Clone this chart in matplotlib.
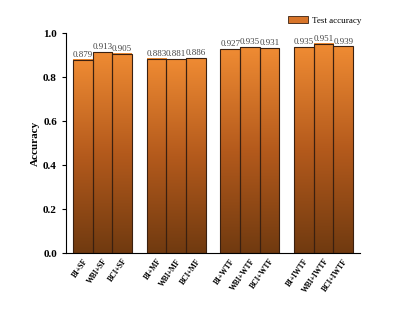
import numpy as np
import matplotlib.pyplot as plt
from matplotlib.colors import LinearSegmentedColormap
from matplotlib.patches import Patch

# data
groups = ['SF', 'MF', 'WTF', 'IWTF']
prefixes = ['BI', 'WBI', 'BCI']
accuracy = [0.879, 0.913, 0.905,
            0.883, 0.881, 0.886,
            0.927, 0.935, 0.931,
            0.935, 0.951, 0.939]
labels = [p + '+' + g for g in groups for p in prefixes]

plt.rcParams['font.family'] = ['Liberation Serif', 'DejaVu Serif']

fig = plt.figure(figsize=(4.12, 3.12), dpi=100)
ax = fig.add_axes([0.160, 0.189, 0.714, 0.705])

cmap = LinearSegmentedColormap.from_list('org', ['#703a10', '#b45a1c', '#ef8b33'])
grad = np.linspace(0, 1, 256).reshape(-1, 1)

xs = []
for i in range(len(groups)):
    for j in range(len(prefixes)):
        xs.append(i * 3.75 + j)

bars = ax.bar(xs, accuracy, width=1.0, facecolor='none', edgecolor='#3a2010', linewidth=0.8, zorder=3)
for b, x, v in zip(bars, xs, accuracy):
    ax.imshow(grad, extent=[x - 0.5, x + 0.5, 0, v], origin='lower', aspect='auto',
              cmap=cmap, vmin=0, vmax=1, zorder=2)
    ax.text(x, v + 0.004, f'{v:.3f}', ha='center', va='bottom', fontsize=6.5, color='#444444')

ax.set_xlim(-0.86, xs[-1] + 0.86)
ax.set_ylim(0, 1.0)
ax.set_yticks(np.arange(0, 1.01, 0.2))
ax.set_yticklabels([f'{t:.1f}' for t in np.arange(0, 1.01, 0.2)], fontweight='bold', fontsize=8)
ax.set_xticks(xs)
ax.set_xticklabels(labels, rotation=55, ha='right', rotation_mode='anchor', fontweight='bold', fontsize=5.5)
ax.tick_params(axis='x', length=0, pad=3)
ax.tick_params(axis='y', length=3, width=0.8, direction='out')
ax.set_ylabel('Accuracy', fontweight='bold', fontsize=8, labelpad=2)
for s in ['top', 'right']:
    ax.spines[s].set_visible(False)
for s in ['left', 'bottom']:
    ax.spines[s].set_linewidth(0.8)

handle = Patch(facecolor='#d8752a', edgecolor='#3a2010', linewidth=0.6)
fig.legend([handle], ['Test accuracy'], loc='center left', bbox_to_anchor=(0.68, 0.935),
           frameon=False, fontsize=6.5, handlelength=2.2, handleheight=0.9, handletextpad=0.4)

fig.savefig('out.png', dpi=100)
